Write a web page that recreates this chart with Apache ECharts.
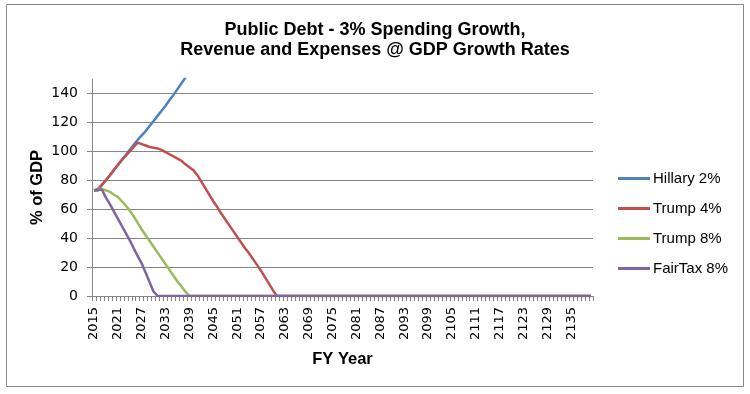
<!DOCTYPE html>
<html><head><meta charset="utf-8">
<script src="https://cdn.jsdelivr.net/npm/echarts@6/dist/echarts.min.js"></script>
<style>html,body{margin:0;padding:0;background:#fff}#c{width:750px;height:394px}</style>
</head><body><div id="c"></div>
<script>
const years = [];
for (let y = 2015; y <= 2140; y++) years.push(String(y));

const hillary = [73,73,76.5,80,83.5,87,90.5,94,97.5,101,104.5,108,111,114,117.5,121,124.5,128,131.5,135.5,139,143,147,151,155,159];
const trump4 = [73,74,77,80,83.5,87,90.5,94,97,100,103,106,105,104,103,102.5,102,101,99.5,98,96.5,95,93.5,91,89,87,83.5,79,74.5,70,65.5,61.5,57,53,49,45,41,37,33,29.5,25.5,21.5,17.5,13,8.5,4,0];
const trump8 = [73,74,74,73,72,70,68.5,65.5,62.5,59,55,50.5,46,42,38,34,30,26,22,18,14,10,6.5,3,0];
const fairtax = [73,73.5,73.5,68,63.5,58.5,53.5,48.5,43.5,38.5,33,27.5,22.5,16,9.5,3,0];
const seriesNames = ['Hillary 2%','Trump 4%','Trump 8%','FairTax 8%'];
const yTicks = [0,20,40,60,80,100,120,140];

function padZero(arr){ const out = arr.slice(); while (out.length < years.length) out.push(0); return out; }

const chart = echarts.init(document.getElementById('c'));
const colors = ['#4F81BD','#C0504D','#9BBB59','#8064A2'];
const datas = [hillary, padZero(trump4), padZero(trump8), padZero(fairtax)];
chart.setOption({
  animation: false,
  color: colors,
  title: {
    text: 'Public Debt - 3% Spending Growth,\nRevenue and Expenses @ GDP Growth Rates',
    left: 'center', top: 15,
    textStyle: {fontFamily: 'Liberation Sans', fontWeight: 'bold', fontSize: 18, lineHeight: 20, color: '#000'}
  },
  graphic: [{type:'rect', shape:{x:6.5,y:4.5,width:737,height:382}, style:{fill:null, stroke:'#888', lineWidth:1}, silent:true}],
  legend: {
    orient: 'vertical', left: 618, top: 171, padding: 0,
    icon: 'rect', itemWidth: 32, itemHeight: 3, itemGap: 15,
    textStyle: {fontFamily: 'Liberation Sans', fontSize: 15, color: '#000', padding:[0,0,0,-2]},
    data: seriesNames
  },
  grid: {left: 92, right: 157, top: 79, bottom: 98, containLabel: false},
  xAxis: {
    type: 'category', data: years, boundaryGap: true,
    name: 'FY Year', nameLocation: 'middle', nameGap: 55, nameMoveOverlap: false,
    nameTextStyle: {fontFamily: 'Liberation Sans', fontWeight: 'bold', fontSize: 16.5, color: '#000'},
    axisLine: {lineStyle: {color: '#868686'}},
    axisTick: {show: true, interval: 0, length: 5, alignWithLabel: false, lineStyle: {color: '#868686'}},
    axisLabel: {interval: 5, rotate: 90, margin: 11, fontFamily: 'DejaVu Sans', fontSize: 13, color: '#000'},
    splitLine: {show: false}
  },
  yAxis: {
    type: 'value', min: 0, max: 150, interval: 20,
    name: '% of GDP', nameLocation: 'middle', nameGap: 46, nameMoveOverlap: false,
    nameTextStyle: {fontFamily: 'Liberation Sans', fontWeight: 'bold', fontSize: 16.5, color: '#000'},
    axisLine: {show: true, lineStyle: {color: '#868686'}},
    axisTick: {show: true, length: 5, lineStyle: {color: '#868686'}},
    axisLabel: {showMaxLabel: false, margin: 14, fontFamily: 'DejaVu Sans', fontSize: 14, color: '#000',
      formatter: v => yTicks.includes(v) ? String(v) : ''},
    splitLine: {show: true, showMaxLine: false, lineStyle: {color: '#868686', width: 1}}
  },
  series: seriesNames.map((n, i) => ({
    name: n, type: 'line', data: datas[i], showSymbol: false, symbol: 'none', clip: true,
    lineStyle: {width: 2.5, color: colors[i]}
  }))
});
</script></body></html>
